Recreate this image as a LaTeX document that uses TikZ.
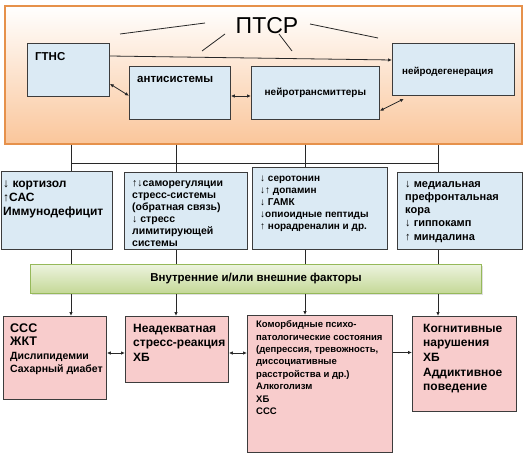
\documentclass[tikz,border=0pt]{standalone}
\usepackage{fontspec}
\setmainfont{Liberation Sans}
\usetikzlibrary{arrows.meta,shadows,calc}
\definecolor{obord}{RGB}{230,145,75}
\definecolor{obot}{RGB}{250,198,155}
\definecolor{bfill}{RGB}{219,234,244}
\definecolor{pfill}{RGB}{248,204,204}
\definecolor{gtop}{RGB}{236,243,222}
\definecolor{gbot}{RGB}{196,216,150}
\definecolor{gbord}{RGB}{150,185,90}
\definecolor{bord}{RGB}{60,60,60}
\definecolor{lin}{RGB}{40,40,40}
\newcommand{\fs}[2]{\fontsize{#1}{#2}\selectfont}
\begin{document}
\begin{tikzpicture}[x=1pt,y=-1pt,
 box/.style={draw=bord, line width=0.8pt, anchor=north west, inner sep=0pt},
 bluebox/.style={box, fill=bfill},
 pinkbox/.style={box, fill=pfill},
 txt/.style={anchor=north west, inner sep=0pt, align=left, font=\bfseries},
 con/.style={draw=lin, line width=0.8pt},
 arr/.style={con, -{Latex[length=4pt,width=3.5pt]}},
 darr/.style={con, {Latex[length=4pt,width=3.5pt]}-{Latex[length=4pt,width=3.5pt]}},
]
\useasboundingbox (0,0) rectangle (527,455);
% main orange frame
\node[draw=obord, line width=1.6pt, top color=white, bottom color=obot, anchor=north west,
      inner sep=0pt, minimum width=517pt, minimum height=138pt,
      drop shadow={shadow xshift=1pt, shadow yshift=-1.5pt, opacity=0.25}] (ptsrbox) at (4,5) {};
\node[anchor=base, inner sep=0pt, font=\fs{23}{27}] (ptsr) at (267,33) {ПТСР};
\coordinate (l1a) at (120,34); \coordinate (l1b) at (205,23);
\coordinate (l2a) at (202,51); \coordinate (l2b) at (225,34);
\coordinate (l3a) at (279,34); \coordinate (l3b) at (292,51);
\coordinate (l4a) at (310,24); \coordinate (l4b) at (378,38);
\draw[con] (l1a) -- (l1b);
\draw[con] (l2a) -- (l2b);
\draw[con] (l3a) -- (l3b);
\draw[con] (l4a) -- (l4b);
% top row boxes
\node[bluebox, minimum width=82pt, minimum height=53pt] (gtns) at (27,43) {};
\node[bluebox, minimum width=101pt, minimum height=53pt] (anti) at (129,66) {};
\node[bluebox, minimum width=128pt, minimum height=53pt] (nt) at (251,66) {};
\node[bluebox, minimum width=122pt, minimum height=52pt] (ndg) at (392,43) {};
\node[anchor=base west, inner sep=0pt, font=\bfseries\fs{11.5}{14}] (gtnst) at (35,60) {ГТНС};
\node[anchor=base west, inner sep=0pt, font=\bfseries\fs{11.5}{14}] (antit) at (137,82.5) {антисистемы};
\node[inner sep=0pt, font=\bfseries\fs{10}{12}] (ntt) at (nt.center) {нейротрансмиттеры};
\node[anchor=base west, inner sep=0pt, font=\bfseries\fs{9.8}{12}] (ndgt) at (402,74.5) {нейродегенерация};
\draw[arr] ([yshift=-13pt]gtns.north east) -- ([yshift=-17pt]ndg.north west);
\draw[darr] ([yshift=13pt]gtns.south east) -- ([yshift=24pt]anti.south west);
\draw[darr] ([yshift=-30pt]anti.north east) -- ([yshift=-30pt]nt.north west);
\draw[darr] ([yshift=9pt]nt.south east) -- ([xshift=12pt,yshift=-3pt]ndg.south west);
% second row
\node[bluebox, minimum width=111pt, minimum height=78pt] (b1) at (0.5,171) {};
\node[bluebox, minimum width=123pt, minimum height=77pt] (b2) at (124,172) {};
\node[bluebox, minimum width=135pt, minimum height=82pt] (b3) at (252,167) {};
\node[bluebox, minimum width=125pt, minimum height=77pt] (b4) at (397,172) {};
\node[txt, font=\bfseries\fs{12}{14}] (t1) at (3,177.2) {\strut↓ кортизол\\↑САС\\Иммунодефицит};
\node[txt, font=\bfseries\fs{10.5}{12}] (t2) at (132,177.6) {\strut↑↓саморегуляции\\стресс-системы\\(обратная связь)\\↓ стресс\\лимитирующей\\системы};
\node[txt, font=\bfseries\fs{10}{12}] (t3) at (260,172.6) {\strut↓ серотонин\\↓↑ допамин\\↓ ГАМК\\↓опиоидные пептиды\\↑ норадреналин и др.};
\node[txt, font=\bfseries\fs{11}{13.2}] (t4) at (405,177.8) {\strut↓ медиальная\\префронтальная\\кора\\↓ гиппокамп\\↑ миндалина};
% factors bar
\node[draw=gbord, line width=1pt, top color=gtop, bottom color=gbot, anchor=north west,
      inner sep=0pt, minimum width=451pt, minimum height=29pt,
      drop shadow={shadow xshift=1pt, shadow yshift=-1.5pt, opacity=0.25}] (fac) at (30,264) {};
\node[inner sep=0pt, font=\bfseries\fs{11.5}{14}] (fact) at (fac.center) {Внутренние и/или внешние факторы};
% bottom row
\node[pinkbox, minimum width=103pt, minimum height=83pt] (p1) at (3,316) {};
\node[pinkbox, minimum width=103pt, minimum height=66pt] (p2) at (125,316) {};
\node[pinkbox, minimum width=145pt, minimum height=137pt] (p3) at (247,315) {};
\node[pinkbox, minimum width=104pt, minimum height=95pt] (p4) at (412,316) {};
\node[txt, font=\bfseries\fs{10.5}{13.5}] (q1) at (10,322.5) {{\fs{12.5}{13.5}\strut ССС}\\{\fs{12.5}{13.5}ЖКТ}\\Дислипидемии\\Сахарный диабет};
\node[txt, font=\bfseries\fs{12}{14.5}] (q2) at (133,321.9) {\strut Неадекватная\\стресс-реакция\\ХБ};
\node[txt, font=\bfseries\fs{9.5}{12.4}] (q3) at (256,318.8) {\strut Коморбидные психо-\\патологические состояния\\(депрессия, тревожность,\\диссоциативные\\расстройства и др.)\\Алкоголизм\\ХБ\\ССС};
\node[txt, font=\bfseries\fs{12}{14.7}] (q4) at (423,321.7) {\strut Когнитивные\\нарушения\\ХБ\\Аддиктивное\\поведение};
% connectors
\coordinate (c1) at (71,163); \coordinate (c2) at (176,163);
\coordinate (c3) at (305,163); \coordinate (c4) at (438,163);
\draw[con] (c1) -- (c4);
\foreach \c/\b/\p in {c1/b1/p1, c2/b2/p2, c3/b3/p3, c4/b4/p4}{
  \draw[con] (ptsrbox.south -| \c) -- (\b.north -| \c);
  \draw[con] (\b.south -| \c) -- (fac.north -| \c);
  \draw[arr] (fac.south -| \c) -- (\p.north -| \c);
}
\draw[darr] ([yshift=-37pt]p1.north east) -- ([yshift=-37pt]p2.north west);
\draw[darr] ([yshift=-37pt]p2.north east) -- ([yshift=-38pt]p3.north west);
\draw[arr] ([yshift=-37.5pt]p3.north east) -- ([yshift=-36.5pt]p4.north west);
\end{tikzpicture}
\end{document}
